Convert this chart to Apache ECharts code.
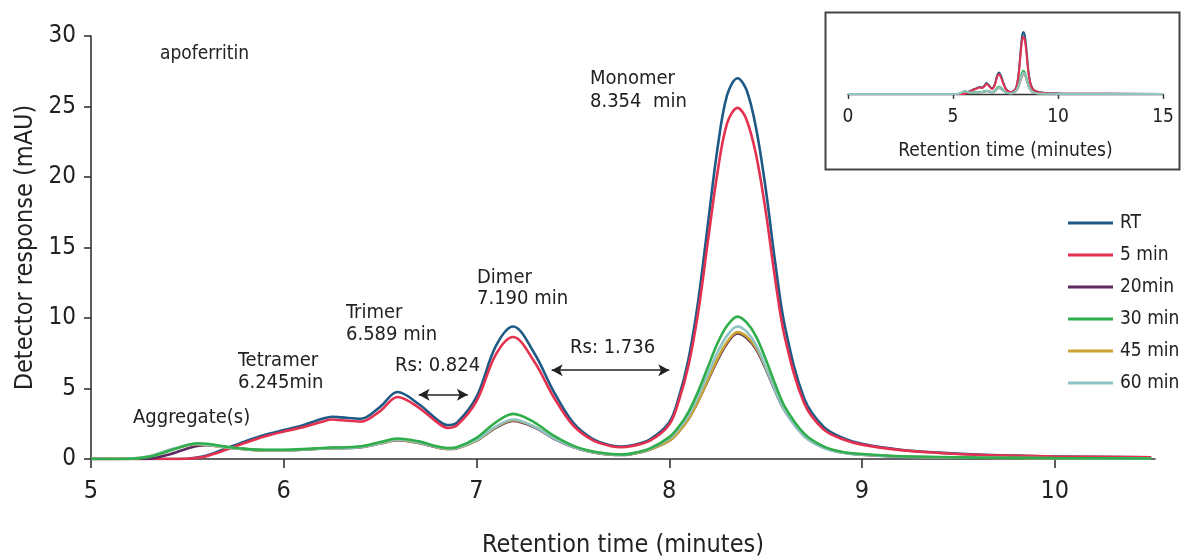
<!DOCTYPE html>
<html>
<head>
<meta charset="utf-8">
<script src="https://cdn.jsdelivr.net/npm/echarts@6/dist/echarts.min.js"></script>
<style>
html,body{margin:0;padding:0;background:#fff;}
#c{width:1182px;height:558px;}
</style>
</head>
<body>
<div id="c"></div>
<script>
// ---- data ----
const times = [5.0, 5.2, 5.3, 5.4, 5.5, 5.55, 5.6, 5.7, 5.8, 5.9, 6.0, 6.1, 6.2, 6.25, 6.3, 6.4, 6.5, 6.59, 6.7, 6.8, 6.85, 6.9, 7.0, 7.1, 7.19, 7.3, 7.4, 7.5, 7.6, 7.7, 7.75, 7.8, 7.9, 8.0, 8.05, 8.1, 8.15, 8.2, 8.25, 8.3, 8.354, 8.4, 8.45, 8.5, 8.55, 8.6, 8.7, 8.8, 8.9, 9.0, 9.2, 9.4, 9.6, 9.8, 10.0, 10.5];

const rt = [0, 0, 0, 0, 0.02, 0.1, 0.25, 0.75, 1.25, 1.7, 2.05, 2.4, 2.85, 3.0, 2.95, 2.85, 3.7, 4.75, 3.9, 2.75, 2.4, 2.6, 4.4, 8.0, 9.4, 7.5, 4.8, 2.6, 1.45, 0.95, 0.88, 0.95, 1.4, 2.6, 4.4, 7.1, 11.2, 16.6, 22.0, 25.8, 27.0, 26.2, 23.5, 19.2, 13.9, 9.4, 4.3, 2.3, 1.5, 1.08, 0.66, 0.45, 0.32, 0.24, 0.18, 0.12];

const min5 = [0, 0, 0, 0, 0.02, 0.08, 0.2, 0.65, 1.15, 1.6, 1.95, 2.25, 2.65, 2.8, 2.75, 2.65, 3.4, 4.4, 3.65, 2.55, 2.2, 2.4, 4.1, 7.4, 8.65, 6.9, 4.4, 2.4, 1.35, 0.9, 0.83, 0.9, 1.3, 2.45, 4.15, 6.65, 10.4, 15.4, 20.3, 23.8, 24.9, 24.1, 21.6, 17.6, 12.7, 8.6, 3.95, 2.1, 1.4, 1.02, 0.63, 0.43, 0.3, 0.23, 0.18, 0.12];

const min20 = [0, 0, 0.02, 0.3, 0.75, 0.92, 0.98, 0.84, 0.7, 0.62, 0.62, 0.66, 0.74, 0.77, 0.77, 0.84, 1.1, 1.33, 1.13, 0.8, 0.71, 0.77, 1.3, 2.2, 2.7, 2.25, 1.45, 0.85, 0.48, 0.3, 0.28, 0.34, 0.68, 1.3, 1.95, 2.85, 4.1, 5.55, 7.0, 8.2, 8.9, 8.6, 7.8, 6.4, 4.8, 3.4, 1.65, 0.82, 0.46, 0.3, 0.17, 0.12, 0.09, 0.07, 0.05, 0.03];

const min30 = [0, 0.02, 0.15, 0.55, 1.0, 1.12, 1.08, 0.88, 0.72, 0.66, 0.66, 0.7, 0.78, 0.82, 0.82, 0.9, 1.2, 1.45, 1.25, 0.88, 0.78, 0.85, 1.5, 2.6, 3.2, 2.6, 1.65, 0.95, 0.55, 0.35, 0.32, 0.38, 0.75, 1.55, 2.3, 3.35, 4.8, 6.5, 8.2, 9.45, 10.1, 9.7, 8.7, 7.1, 5.3, 3.7, 1.8, 0.9, 0.5, 0.35, 0.2, 0.14, 0.1, 0.08, 0.06, 0.04];

const min45 = [0, 0.03, 0.18, 0.6, 0.98, 1.05, 1.0, 0.82, 0.68, 0.62, 0.62, 0.66, 0.74, 0.78, 0.78, 0.85, 1.1, 1.35, 1.15, 0.82, 0.72, 0.78, 1.3, 2.25, 2.75, 2.3, 1.5, 0.88, 0.5, 0.32, 0.3, 0.35, 0.68, 1.3, 1.95, 2.85, 4.1, 5.6, 7.1, 8.3, 9.0, 8.7, 7.9, 6.5, 4.9, 3.45, 1.7, 0.85, 0.48, 0.32, 0.18, 0.12, 0.09, 0.07, 0.05, 0.03];

const min60 = [0, 0.04, 0.2, 0.62, 1.0, 1.06, 1.02, 0.84, 0.7, 0.63, 0.63, 0.67, 0.75, 0.79, 0.79, 0.86, 1.12, 1.38, 1.18, 0.84, 0.74, 0.8, 1.35, 2.3, 2.8, 2.3, 1.48, 0.86, 0.5, 0.32, 0.3, 0.36, 0.72, 1.45, 2.15, 3.1, 4.45, 6.0, 7.55, 8.75, 9.4, 9.05, 8.1, 6.55, 4.85, 3.4, 1.6, 0.8, 0.45, 0.3, 0.17, 0.12, 0.09, 0.07, 0.05, 0.03];

const seriesNames = ['RT', '5 min', '20min', '30 min', '45 min', '60 min'];
const seriesColors = ['#1d5a86', '#e3314f', '#5c2a5e', '#2fae4b', '#cba434', '#8fc3c4'];
const seriesValues = [rt, min5, min20, min30, min45, min60];
const drawOrder = [0, 1, 2, 4, 5, 3];
const insetOrder = [2, 4, 3, 0, 1, 5];

const mainXTicks = [5, 6, 7, 8, 9, 10];
const insetXTicks = [0, 5, 10, 15];
const insetStart = 0, insetEnd = 15;

// ---- build ----
const FONT = "'Liberation Sans Narrow','DejaVu Sans Condensed','Roboto',sans-serif";
const TXT = '#222';
const AX = '#333';

function pairs(vals) { return times.map((t, i) => [t, vals[i]]); }

const series = [];
drawOrder.forEach(k => {
  series.push({
    name: seriesNames[k], type: 'line', xAxisIndex: 0, yAxisIndex: 0,
    data: pairs(seriesValues[k]), smooth: 0.35, showSymbol: false, symbol: 'none',
    lineStyle: { color: seriesColors[k], width: 2.6 }, itemStyle: { color: seriesColors[k] },
    emphasis: { disabled: true }, z: 3
  });
});
insetOrder.forEach(k => {
  const d = [[insetStart, 0]].concat(pairs(seriesValues[k])).concat([[insetEnd, 0]]);
  series.push({
    name: seriesNames[k], type: 'line', xAxisIndex: 1, yAxisIndex: 1,
    data: d, smooth: 0.3, showSymbol: false, symbol: 'none',
    lineStyle: { color: seriesColors[k], width: 2 }, itemStyle: { color: seriesColors[k] },
    emphasis: { disabled: true }, z: 3
  });
});
// arrows for resolution annotations
series.push({
  type: 'line', xAxisIndex: 0, yAxisIndex: 0, data: [], silent: true,
  markLine: {
    silent: true, symbol: ['arrow', 'arrow'], symbolSize: [9, 11],
    label: { show: false },
    lineStyle: { color: '#222', width: 1.6, type: 'solid' },
    data: [
      [{ coord: [6.70, 4.55] }, { coord: [6.955, 4.55] }],
      [{ coord: [7.39, 6.3] }, { coord: [8.0, 6.3] }]
    ]
  }
});

const annFont = 20;
function txt(x, y, s, size) {
  return { type: 'text', left: x, top: y, z: 10,
    style: { text: s, fill: TXT, font: (size || annFont) + 'px ' + FONT } };
}

const option = {
  animation: false,
  backgroundColor: '#fff',
  textStyle: { fontFamily: FONT },
  grid: [
    { left: 91, right: 27, top: 36, bottom: 99, containLabel: false, outerBoundsMode: 'none' },
    { left: 848, top: 25, width: 315, height: 69, containLabel: false, outerBoundsMode: 'none' }
  ],
  xAxis: [
    { type: 'value', gridIndex: 0, min: 5, max: 10.52, interval: 1,
      axisLine: { show: true, lineStyle: { color: AX, width: 1.6 } },
      axisTick: { show: true, length: 9, lineStyle: { color: AX, width: 1.6 }, customValues: mainXTicks },
      axisLabel: { color: TXT, fontSize: 25, fontFamily: FONT, margin: 20, customValues: mainXTicks },
      splitLine: { show: false },
      name: 'Retention time (minutes)', nameLocation: 'middle', nameGap: 74,
      nameTextStyle: { color: TXT, fontSize: 25, fontFamily: FONT } },
    { type: 'value', gridIndex: 1, min: insetStart, max: insetEnd, interval: 5,
      axisLine: { show: true, onZero: false, lineStyle: { color: AX, width: 1.4 } },
      axisTick: { show: true, length: 5, lineStyle: { color: AX, width: 1.4 } },
      axisLabel: { color: TXT, fontSize: 19, fontFamily: FONT, margin: 14, customValues: insetXTicks },
      splitLine: { show: false },
      name: 'Retention time (minutes)', nameLocation: 'middle', nameGap: 48,
      nameTextStyle: { color: TXT, fontSize: 19, fontFamily: FONT } }
  ],
  yAxis: [
    { type: 'value', gridIndex: 0, min: 0, max: 30, interval: 5,
      axisLine: { show: true, lineStyle: { color: AX, width: 1.6 } },
      axisTick: { show: true, length: 7, lineStyle: { color: AX, width: 1.6 } },
      axisLabel: { color: TXT, fontSize: 24, fontFamily: FONT, margin: 15 },
      splitLine: { show: false },
      name: 'Detector response (mAU)', nameLocation: 'middle', nameGap: 53, nameRotate: 90,
      nameTextStyle: { color: TXT, fontSize: 25, fontFamily: FONT } },
    { type: 'value', gridIndex: 1, min: 0, max: 30, show: false, splitLine: { show: false } }
  ],
  legend: {
    data: seriesNames, orient: 'vertical', left: 1063, top: 206,
    icon: 'rect', itemWidth: 45, itemHeight: 3, itemGap: 8,
    textStyle: { color: TXT, fontSize: 19, fontFamily: FONT, lineHeight: 24, padding: [0, 0, 0, 2] },
    selectedMode: false
  },
  series: series,
  graphic: [
    { type: 'rect', left: 823, top: 10, z: -1, silent: true,
      shape: { width: 354, height: 157 }, style: { fill: 'none', stroke: '#444', lineWidth: 2 } },
    txt(160, 45, 'apoferritin', 19),
    txt(590, 69, 'Monomer'),
    txt(590, 92, '8.354  min'),
    txt(477, 268, 'Dimer'),
    txt(477, 289, '7.190 min'),
    txt(346, 303, 'Trimer'),
    txt(346, 325, '6.589 min'),
    txt(238, 351, 'Tetramer'),
    txt(238, 373, '6.245min'),
    txt(133, 408, 'Aggregate(s)'),
    txt(395, 356, 'Rs: 0.824'),
    txt(570, 338, 'Rs: 1.736')
  ]
};

const chart = echarts.init(document.getElementById('c'), null, { renderer: 'canvas' });
chart.setOption(option);
</script>
</body>
</html>
